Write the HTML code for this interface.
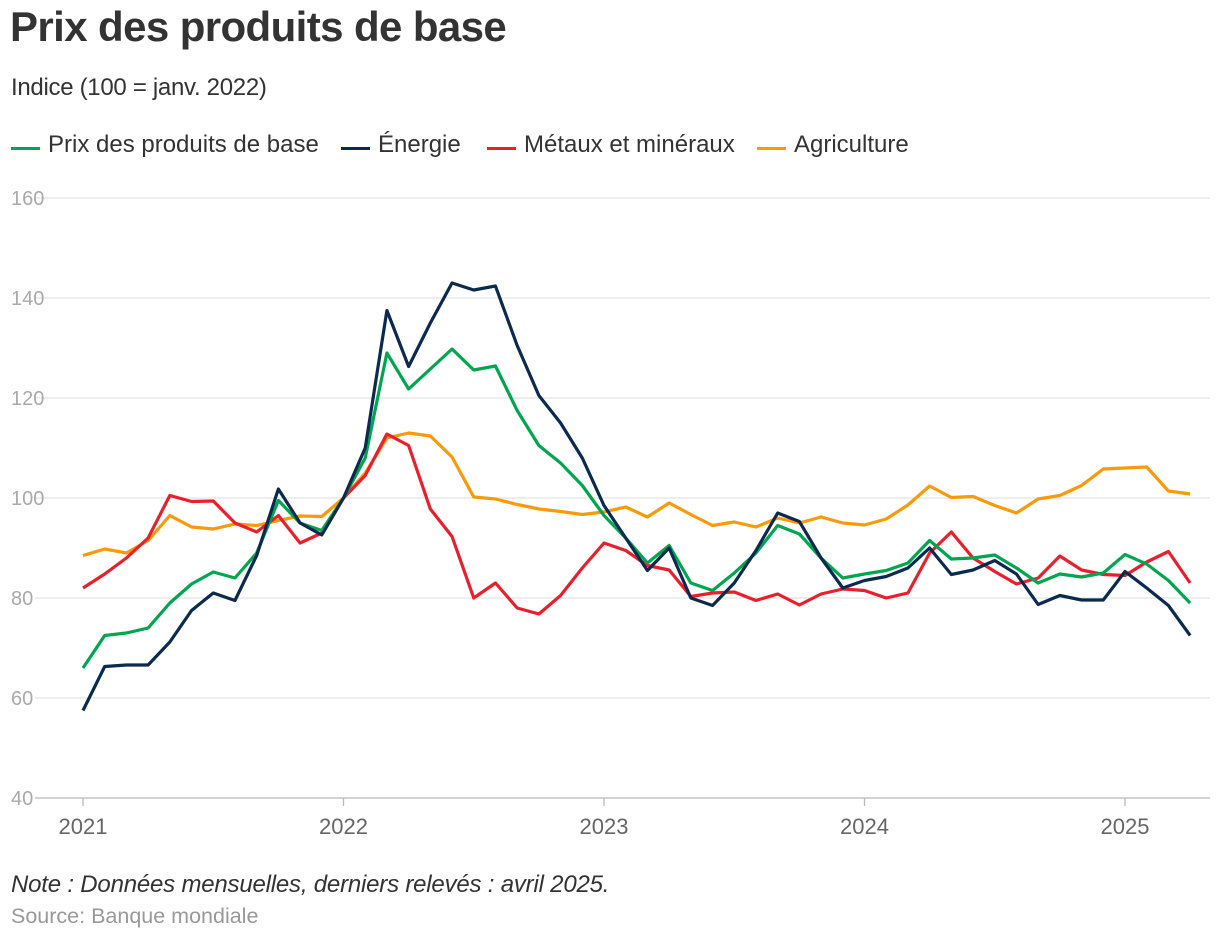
<!DOCTYPE html>
<html><head><meta charset="utf-8"><style>
body{margin:0;background:#fff;font-family:"Liberation Sans",sans-serif;}
#wrap{position:relative;width:1220px;height:940px;overflow:hidden}
.t{position:absolute;white-space:nowrap}
.lg{position:absolute;top:131px;font-size:24px;color:#333;white-space:nowrap}
.sw{position:absolute;top:147px;width:29px;height:3px}
</style></head><body><div id="wrap">
<div class="t" style="left:10px;top:3px;font-size:42px;font-weight:bold;color:#333;letter-spacing:-0.6px">Prix des produits de base</div>
<div class="t" style="left:11px;top:74px;font-size:24px;color:#333;letter-spacing:-0.3px">Indice (100 = janv. 2022)</div>
<div>
<div class="sw" style="left:11px;background:#00a64f"></div>
<div class="lg" style="left:48px">Prix des produits de base</div>
<div class="sw" style="left:341px;background:#0c2a4d"></div>
<div class="lg" style="left:378px">Énergie</div>
<div class="sw" style="left:487px;background:#e8202e"></div>
<div class="lg" style="left:524px">Métaux et minéraux</div>
<div class="sw" style="left:757px;background:#f99a0a"></div>
<div class="lg" style="left:794px">Agriculture</div>
</div>
<svg id="chart" width="1220" height="940" style="position:absolute;left:0;top:0"></svg>
<div class="t" style="left:11px;top:871px;font-size:24px;font-style:italic;color:#333;letter-spacing:-0.2px">Note : Données mensuelles, derniers relevés : avril 2025.</div>
<div class="t" style="left:11px;top:904px;font-size:21.5px;color:#999">Source: Banque mondiale</div>
</div>
<script>
const yTicks=[40,60,80,100,120,140,160];
const xTickLabels=["2021","2022","2023","2024","2025"];
const total=[66,72.5,73,74,79,82.8,85.2,84,89,99.5,95,93.5,100,108,129,121.8,125.8,129.8,125.6,126.4,117.5,110.5,107,102.5,96.5,92,87,90.5,83,81.5,85,89,94.5,92.8,88,84,84.8,85.5,87,91.5,87.8,88,88.6,86,83,84.8,84.2,85,88.7,86.8,83.5,79];
const energie=[57.5,66.3,66.6,66.6,71.2,77.5,81,79.5,88.5,101.8,95,92.6,100,110,137.5,126.3,135,143,141.6,142.4,130.5,120.5,115,108,98.5,92,85.5,90,80,78.5,83,89.5,97,95.3,88,82,83.5,84.3,86,90,84.7,85.6,87.5,84.8,78.7,80.5,79.6,79.6,85.3,82,78.5,72.5];
const metaux=[82,84.8,88,92,100.5,99.3,99.4,95,93.2,96.5,91,93,100,104.5,112.8,110.5,97.8,92.3,80,83,78,76.8,80.5,86,91,89.5,86.5,85.6,80.3,81,81.2,79.5,80.8,78.6,80.8,81.8,81.5,80,81,89,93.2,88,85.3,82.8,84,88.4,85.6,84.7,84.5,87.2,89.3,83];
const agriculture=[88.5,89.8,89,91.5,96.5,94.2,93.8,94.8,94.5,95.5,96.4,96.3,100,105,112,113,112.4,108.2,100.2,99.8,98.7,97.8,97.3,96.7,97.2,98.2,96.2,99,96.7,94.5,95.2,94.2,96,95,96.2,95,94.6,95.8,98.6,102.4,100.1,100.3,98.5,97,99.8,100.5,102.5,105.8,106,106.2,101.4,100.8];
const svg=document.getElementById('chart');const NS='http://www.w3.org/2000/svg';
const X=i=>83+i*(1125-83)/48;const Y=v=>798-(v-40)*5;
function mk(t,a){const e=document.createElementNS(NS,t);for(const k in a)e.setAttribute(k,a[k]);svg.appendChild(e);return e;}
yTicks.forEach(v=>{
const g=mk('line',{x1:35,x2:1210,y1:Y(v),y2:Y(v),stroke:v===40?'#bbb':'#e3e3e3','stroke-width':1.3});


const t=mk('text',{x:11,y:Y(v)+7,'font-size':20,fill:'#aaa','font-family':'Liberation Sans'});t.textContent=v;


});
xTickLabels.forEach((l,k)=>{
const x=X(k*12);
const tk=mk('line',{x1:x,x2:x,y1:798,y2:806,stroke:'#bbb','stroke-width':1.3});


const t=mk('text',{x:x,y:834,'font-size':22,fill:'#666','text-anchor':'middle','font-family':'Liberation Sans'});t.textContent=l;


});
[[agriculture,'#f99a0a','line-agriculture'],[metaux,'#e8202e','line-metaux'],[total,'#00a64f','line-total'],[energie,'#0c2a4d','line-energie']].forEach(([d,c,n])=>{
const p=mk('polyline',{points:d.map((v,i)=>X(i)+','+Y(v)).join(' '),fill:'none',stroke:c,'stroke-width':3.2,'stroke-linejoin':'round'});


});
</script></body></html>
